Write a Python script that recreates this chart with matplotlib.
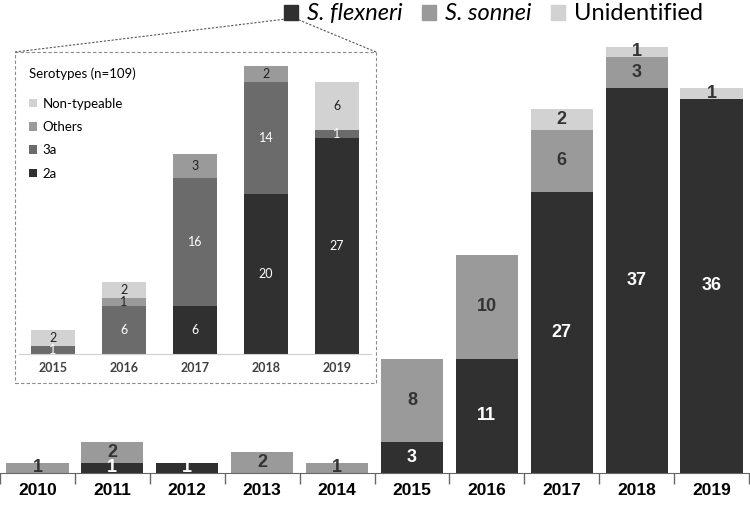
import matplotlib
matplotlib.use('Agg')
import matplotlib.pyplot as plt
import numpy as np
from matplotlib.patches import Rectangle, Patch
from matplotlib.lines import Line2D

# main chart data
YEARS      = ['2010', '2011', '2012', '2013', '2014', '2015', '2016', '2017', '2018', '2019']
FLEXNERI   = [0, 1, 1, 0, 0, 3, 11, 27, 37, 36]
SONNEI     = [1, 2, 0, 2, 1, 8, 10, 6, 3, 0]
UNIDENT    = [0, 0, 0, 0, 0, 0, 0, 2, 1, 1]

# inset: serotypes of S. flexneri
INSET_YEARS  = ['2015', '2016', '2017', '2018', '2019']
SERO_2A      = [0, 0, 6, 20, 27]
SERO_3A      = [1, 6, 16, 14, 1]
SERO_OTHERS  = [0, 1, 3, 2, 0]
SERO_NT      = [2, 2, 0, 0, 6]

DARK, MID, GREY, LIGHT = '#303030', '#6b6b6b', '#9a9a9a', '#d2d2d2'
NARROW = ['Liberation Sans Narrow', 'Liberation Sans', 'DejaVu Sans']
SANS   = ['Lato', 'DejaVu Sans']

W, H = 750, 507
fig = plt.figure(figsize=(W / 100, H / 100), dpi=100)


def fx(px):
    return px / W


def fy(py):
    return 1 - py / H


# ── main stacked bars ───────────────────────────────────────────────────────
ax = fig.add_axes([0, fy(473), 749 / W, 468 / H])
x = np.arange(len(YEARS))
series = [(FLEXNERI, DARK, 'white'), (SONNEI, GREY, '#333333'), (UNIDENT, LIGHT, '#333333')]
bottom = np.zeros(len(YEARS))
for vals, col, tcol in series:
    vals = np.array(vals, dtype=float)
    ax.bar(x, vals, 0.83, bottom=bottom, color=col, linewidth=0)
    for xi, v, b in zip(x, vals, bottom):
        if v > 0:
            ax.text(xi, b + v / 2, f'{int(v)}', ha='center', va='center',
                    color=tcol, fontsize=13, fontweight='bold', family=NARROW)
    bottom += vals

ax.set_xlim(-0.5, len(YEARS) - 0.5)
ax.set_ylim(0, 45)
ax.set_xticks(x)
ax.set_xticklabels(YEARS, fontsize=12.5, fontweight='bold', family=NARROW)
ax.set_xticks(np.arange(-0.5, len(YEARS)), minor=True)
ax.tick_params(axis='x', which='major', length=0, pad=7)
ax.tick_params(axis='x', which='minor', length=8, color='#666666', width=1)
ax.set_yticks([])
for s in ['top', 'right', 'left']:
    ax.spines[s].set_visible(False)
ax.spines['bottom'].set_color('#666666')
ax.patch.set_alpha(0)

# legend on top
handles = [Patch(color=DARK), Patch(color=GREY), Patch(color=LIGHT)]
leg = fig.legend(handles, ['S. flexneri', 'S. sonnei', 'Unidentified'],
                 loc='upper right', bbox_to_anchor=(fx(712), fy(-6)), ncol=3,
                 frameon=False, handlelength=0.6, handleheight=0.6,
                 handletextpad=0.35, columnspacing=0.85, borderaxespad=0,
                 prop={'family': SANS, 'size': 17})
for t in leg.get_texts()[:2]:
    t.set_style('italic')

# ── inset ───────────────────────────────────────────────────────────────────
ins = fig.add_axes([fx(19), fy(354), 352 / W, 320 / H])
xi_ = np.arange(len(INSET_YEARS))
iseries = [(SERO_2A, DARK, 'white', '2a'), (SERO_3A, MID, 'white', '3a'),
           (SERO_OTHERS, GREY, '#222222', 'Others'), (SERO_NT, LIGHT, '#222222', 'Non-typeable')]
bottom = np.zeros(len(INSET_YEARS))
for vals, col, tcol, lab in iseries:
    vals = np.array(vals, dtype=float)
    ins.bar(xi_, vals, 0.62, bottom=bottom, color=col, linewidth=0, label=lab)
    for xx, v, b in zip(xi_, vals, bottom):
        if v > 0:
            ins.text(xx, b + v / 2, f'{int(v)}', ha='center', va='center',
                     color=tcol, fontsize=9, family=SANS)
    bottom += vals

ins.set_xlim(-0.48, len(INSET_YEARS) - 0.52)
ins.set_ylim(0, 40)
ins.set_xticks(xi_)
ins.set_xticklabels(INSET_YEARS, fontsize=9, fontweight='bold', color='#404040', family=SANS)
ins.tick_params(axis='x', length=0, pad=6)
ins.set_yticks([])
for s in ['top', 'right', 'left']:
    ins.spines[s].set_visible(False)
ins.spines['bottom'].set_color('#d0d0d0')
ins.patch.set_alpha(0)

h, l = ins.get_legend_handles_labels()
ileg = ins.legend(h[::-1], l[::-1], title='Serotypes (n=109)', loc='upper left',
                  bbox_to_anchor=(fx(24), fy(62)), bbox_transform=fig.transFigure,
                  frameon=False, handlelength=0.6, handleheight=0.6, handletextpad=0.4,
                  labelspacing=0.85, alignment='left', borderaxespad=0,
                  prop={'family': SANS, 'size': 9.5},
                  title_fontproperties={'family': SANS, 'size': 9.5})
ileg._legend_box.sep = 13

# dotted zoom box and connector lines
fig.add_artist(Rectangle((fx(15), fy(383)), fx(376) - fx(15), fy(52) - fy(383),
                         transform=fig.transFigure, fill=False, ls=(0, (3, 2)),
                         lw=0.8, ec='#8a8a8a'))
fig.add_artist(Line2D([fx(15), fx(286)], [fy(52), fy(19)], transform=fig.transFigure,
                      ls=(0, (2, 1.5)), lw=0.8, color='#555555'))
fig.add_artist(Line2D([fx(376), fx(299)], [fy(52), fy(20)], transform=fig.transFigure,
                      ls=(0, (2, 1.5)), lw=0.8, color='#555555'))

plt.savefig('out.png', dpi=100)
